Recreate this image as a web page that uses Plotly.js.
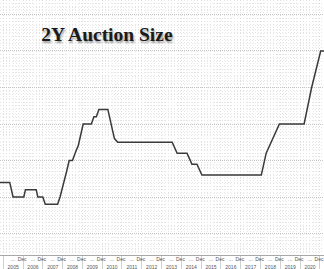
<!DOCTYPE html>
<html>
<head>
<meta charset="utf-8">
<script src="https://cdn.plot.ly/plotly-3.0.1.min.js"></script>
<style>html,body{margin:0;padding:0;background:#fff;}#chart{width:324px;height:269px;}</style>
</head>
<body>
<div id="chart"></div>
<script>
// Auction dates and 2Y auction size (USD bn)
const dates = ["2004-11-01","2005-05-01","2005-07-01","2006-01-15","2006-02-15","2006-09-01","2006-10-01","2007-01-01","2007-02-15","2007-10-01","2007-11-15","2008-02-15","2008-03-15","2008-05-01","2008-07-01","2008-09-15","2008-10-15","2009-01-15","2009-06-15","2009-08-01","2009-09-15","2009-11-01","2010-04-15","2010-07-15","2010-08-15","2010-10-15","2013-07-15","2013-10-15","2014-04-15","2014-07-15","2014-10-15","2015-01-15","2018-01-15","2018-04-15","2018-07-15","2018-12-15","2020-03-15","2020-08-01","2021-01-15","2021-03-20"];
const sizes = [24,24,20,20,22,22,20,20,18,18,20,25,27,30,30,33,34,40,40,42,42,44,44,38,36,35,35,32,32,29,29,26,26,32,35,40,40,50,60,60];
const years = [2004,2005,2006,2007,2008,2009,2010,2011,2012,2013,2014,2015,2016,2017,2018,2019,2020];
const decTickVals = [];
const decTickText = [];
years.forEach(y => {
  if (y >= 2005) { decTickVals.push(y + "-07-01"); decTickText.push("..."); }
  decTickVals.push(y + "-12-15"); decTickText.push("Dec");
});
const xRange = ["2004-11-02","2021-03-17"];

const trace = {
  x: dates, y: sizes, type: "scatter", mode: "lines",
  line: {color: "#3a3a3a", width: 1.5, shape: "linear"},
  hoverinfo: "skip"
};
const dummy = {x: xRange, y: [null, null], xaxis: "x2", yaxis: "y", type: "scatter", mode: "lines", showlegend: false, hoverinfo: "skip"};

const layout = {
  width: 324, height: 269,
  margin: {l: 0, r: 0, t: 0, b: 14, pad: 0},
  paper_bgcolor: "#ffffff", plot_bgcolor: "#ffffff",
  showlegend: false,
  title: {
    text: "2Y Auction Size",
    font: {family: "Liberation Serif", size: 19.5, color: "#1a1a1a", weight: "bold", shadow: "1px 2px 2px #999"},
    x: 0.127, xanchor: "left", xref: "paper",
    y: 0.874, yanchor: "middle", yref: "container"
  },
  xaxis: {
    type: "date", range: xRange,
    tick0: "2005-01-01", dtick: "M12", ticklabelmode: "period", tickformat: "%Y",
    ticks: "outside", ticklen: 13, tickwidth: 1, tickcolor: "#d0d0d0",
    ticklabelstandoff: -6,
    tickfont: {family: "Liberation Sans", size: 5, color: "#555"},
    showgrid: true, gridcolor: "#dcdcdc", griddash: "1px,2px", gridwidth: 1,
    minor: {dtick: "M2", tick0: "2005-01-01", showgrid: true, gridcolor: "#e6e6e6", griddash: "1px,2px", gridwidth: 1},
    showline: true, linecolor: "#a8a8a8", linewidth: 1,
    zeroline: false, fixedrange: true
  },
  xaxis2: {
    type: "date", range: xRange, overlaying: "x", anchor: "y", side: "bottom",
    tickmode: "array", tickvals: decTickVals, ticktext: decTickText,
    ticks: "", showgrid: false, showline: false, zeroline: false,
    tickfont: {family: "Liberation Sans", size: 5, color: "#555"},
    fixedrange: true
  },
  yaxis: {
    range: [4.11, 73.97], dtick: 10, tick0: 0,
    showticklabels: false, ticks: "",
    showgrid: true, gridcolor: "#c4c4c4", griddash: "1px,1px", gridwidth: 1,
    minor: {dtick: 1, showgrid: true, gridcolor: "#e6e6e6", griddash: "1px,2px", gridwidth: 1},
    zeroline: false, showline: false, fixedrange: true
  }
};

Plotly.newPlot("chart", [trace, dummy], layout, {displayModeBar: false, staticPlot: true});
</script>
</body>
</html>
